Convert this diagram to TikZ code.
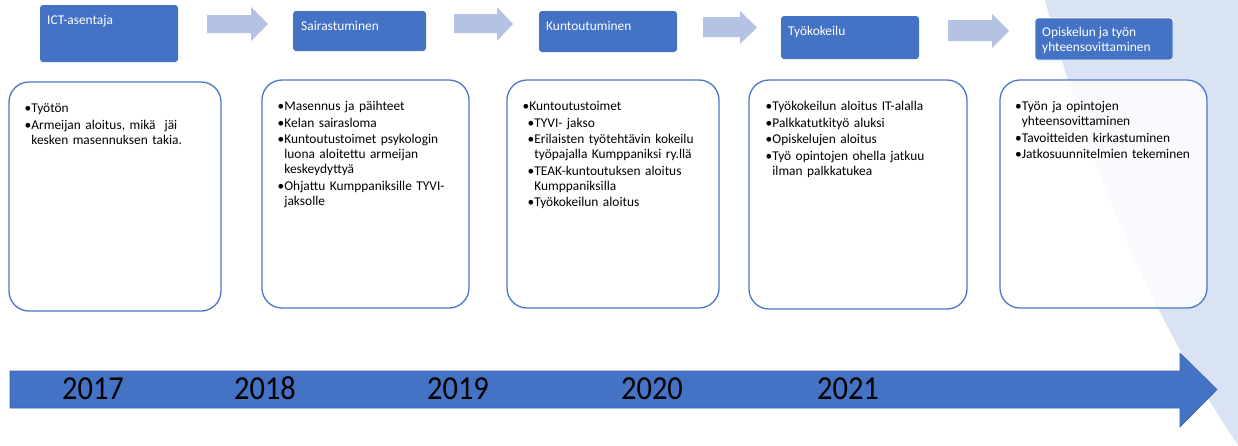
\documentclass[tikz,border=0pt]{standalone}
\usepackage{fontspec}
\setmainfont{Carlito}
\usetikzlibrary{positioning}
\definecolor{accblue}{HTML}{4472C4}
\definecolor{arrowblue}{HTML}{B4C2E4}
\definecolor{paleblue}{HTML}{DAE3F3}
\definecolor{edgeblue}{HTML}{4A78C8}
\definecolor{darkedge}{HTML}{3A63AD}
\newcommand\bul[1]{\par\sbox0{•}\hangindent=\wd0\hangafter=1\noindent\rule{0pt}{10.5pt}\copy0#1\par}
\newcommand\subbul[1]{\par\sbox0{•}\hangindent=\dimexpr\wd0+5pt\relax\hangafter=1\noindent\rule{0pt}{10.5pt}\hspace*{5pt}\copy0#1\par}
\tikzset{
  headbox/.style={fill=accblue, rounded corners=3pt, inner sep=0pt},
  headtext/.style={text=white, font=\fontsize{13.4}{15}\selectfont, inner sep=0pt, anchor=base west},
  infobox/.style={draw=edgeblue, line width=1.3pt, rounded corners=20pt, fill=white, inner sep=0pt},
  infotext/.style={font=\fontsize{13.4}{15}\selectfont, inner sep=0pt, anchor=north west, text width=200pt,
    execute at begin node={\setlength{\parskip}{1.5pt}\hyphenpenalty=10000}},
  year/.style={font=\fontsize{30.5}{31}\selectfont, inner sep=0pt, anchor=base}
}
\begin{document}
\begin{tikzpicture}[x=1pt,y=-1pt]
  \useasboundingbox (0,0) rectangle (1238,445);
  % pale background band on the right
  \fill[paleblue] (1045,0) .. controls (1085,150) and (1140,300) .. (1238,445) -- (1238,0) -- cycle;
  % header boxes
  \node[headbox, minimum width=138pt, minimum height=57pt] (ict) at (109,33.5) {};
  \node[headbox, minimum width=133pt, minimum height=40pt] (sairas) at (359.5,31) {};
  \node[headbox, minimum width=138pt, minimum height=41pt] (kuntou) at (608,31.5) {};
  \node[headbox, minimum width=138pt, minimum height=43pt] (tyokok) at (850,37.5) {};
  \node[headbox, draw=white, line width=0.8pt, minimum width=138pt, minimum height=42pt] (opisk) at (1104,39) {};
  \node[headtext] (ictlabel) at (47,24) {ICT-asentaja};
  \node[headtext] (sairaslabel) at (301,30.5) {Sairastuminen};
  \node[headtext] (kuntoulabel) at (546,30) {Kuntoutuminen};
  \node[headtext] (tyokoklabel) at (788,35) {Työkokeilu};
  \node[headtext, align=left] (opisklabel) at (1042,51.5) {Opiskelun ja työn\\yhteensovittaminen};
  % block arrows between headers
  \fill[arrowblue] (207,15) -- (251,15) -- (251,7) -- (268,24) -- (251,41) -- (251,33) -- (207,33) -- cycle;
  \fill[arrowblue] (454,14) -- (497,14) -- (497,7) -- (513,24) -- (497,41) -- (497,33) -- (454,33) -- cycle;
  \fill[arrowblue] (703,17) -- (740,17) -- (740,11) -- (757,27.5) -- (740,44) -- (740,37) -- (703,37) -- cycle;
  \fill[arrowblue] (948,20) -- (992,20) -- (992,14) -- (1009,31) -- (992,48) -- (992,41) -- (948,41) -- cycle;
  % content boxes
  \node[infobox, minimum width=212pt, minimum height=229pt] (b1) at (115,196.5) {};
  \node[infobox, minimum width=207pt, minimum height=228pt] (b2) at (365.5,194) {};
  \node[infobox, minimum width=212pt, minimum height=228pt] (b3) at (613,194) {};
  \node[infobox, minimum width=218pt, minimum height=229pt] (b4) at (858,194.5) {};
  \node[infobox, fill opacity=0.85, minimum width=207pt, minimum height=228pt] (b5) at (1103.5,194) {};
  \node[infotext] (t1) at (24.5,96) {\bul{Työtön}\bul{Armeijan aloitus, mikä \ jäi\newline kesken masennuksen takia.}};
  \node[infotext] (t2) at (277.5,94) {\bul{Masennus ja päihteet}\bul{Kelan sairasloma}%
    \bul{Kuntoutustoimet psykologin\newline luona aloitettu armeijan\newline keskeydyttyä}%
    \bul{Ohjattu Kumppaniksille TYVI-\newline jaksolle}};
  \node[infotext] (t3) at (522.5,94) {\bul{Kuntoutustoimet}\subbul{TYVI- jakso}%
    \subbul{Erilaisten työtehtävin kokeilu\newline työpajalla Kumppaniksi ry.llä}%
    \subbul{TEAK-kuntoutuksen aloitus\newline Kumppaniksilla}\subbul{Työkokeilun aloitus}};
  \node[infotext] (t4) at (765.5,94) {\bul{Työkokeilun aloitus IT-alalla}\bul{Palkkatutkityö aluksi}%
    \bul{Opiskelujen aloitus}\bul{Työ opintojen ohella jatkuu\newline ilman palkkatukea}};
  \node[infotext] (t5) at (1015,94) {\bul{Työn ja opintojen\newline yhteensovittaminen}%
    \bul{Tavoitteiden kirkastuminen}\bul{Jatkosuunnitelmien tekeminen}};
  % time line
  \draw[fill=accblue, draw=darkedge, line width=0.6pt] (10,371) -- (1180,371) -- (1180,353) -- (1217,389.5)
    -- (1180,427) -- (1180,408) -- (10,408) -- cycle;
  \node[year] (y17) at (93,399) {\scalebox{1}[1.1]{2017}};
  \node[year] (y18) at (265,399) {\scalebox{1}[1.1]{2018}};
  \node[year] (y19) at (458,399) {\scalebox{1}[1.1]{2019}};
  \node[year] (y20) at (652,399) {\scalebox{1}[1.1]{2020}};
  \node[year] (y21) at (848,399) {\scalebox{1}[1.1]{2021}};
\end{tikzpicture}
\end{document}
